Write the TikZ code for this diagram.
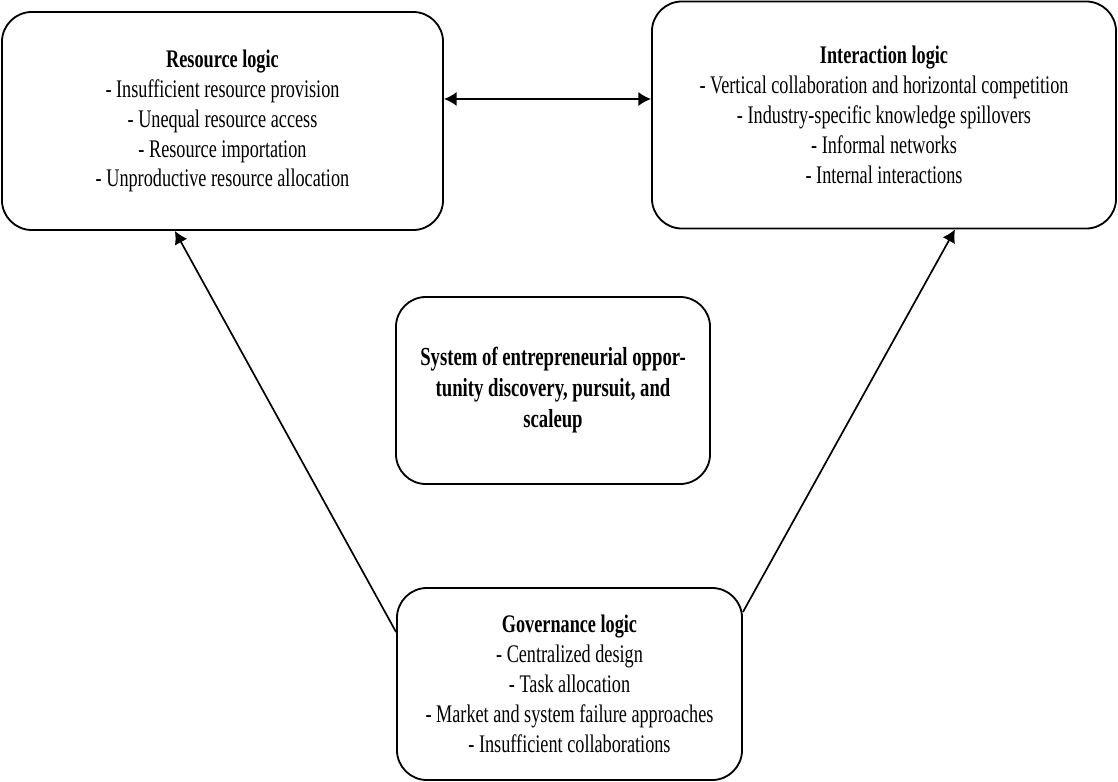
\documentclass[tikz,border=0pt]{standalone}
\usepackage{fontspec}
\setmainfont{Liberation Serif}[FakeStretch=0.72]
\usetikzlibrary{arrows.meta, positioning}

\begin{document}
\begin{tikzpicture}[x=0.025cm, y=-0.025cm,
  logic_box/.style={draw, line width=1.3pt, rounded corners=0.75cm, align=center, inner sep=4pt, font=\fontsize{18}{21.3}\selectfont},
  core_box/.style={logic_box, font=\bfseries\fontsize{18.5}{22}\selectfont},
  link/.style={line width=1.2pt, -{Latex[length=9pt, width=10pt]}},
  both_link/.style={line width=1.2pt, {Latex[length=9pt, width=10pt]}-{Latex[length=9pt, width=10pt]}},
]
  \useasboundingbox (0,0) rectangle (1118,782);
  % the four logic boxes
  \node[logic_box, minimum width=11.025cm, minimum height=5.45cm] (res) at (222.5,121)
    {\textbf{Resource logic}\\- Insufficient resource provision\\- Unequal resource access\\- Resource importation\\- Unproductive resource allocation};
  \node[logic_box, minimum width=11.6cm, minimum height=5.675cm] (inter) at (884,115)
    {\textbf{Interaction logic}\\- Vertical collaboration and horizontal competition\\- Industry-specific knowledge spillovers\\- Informal networks\\- Internal interactions};
  \node[core_box, minimum width=7.85cm, minimum height=4.675cm] (sys) at (553,390.5)
    {System of entrepreneurial oppor-\\tunity discovery, pursuit, and\\scaleup};
  \node[logic_box, minimum width=8.625cm, minimum height=4.8cm] (gov) at (569.5,684)
    {\textbf{Governance logic}\\- Centralized design\\- Task allocation\\- Market and system failure approaches\\- Insufficient collaborations};
  % connectors
  \coordinate (link_y) at (0,99);
  \draw[both_link] (res.east |- link_y) -- (inter.west |- link_y);
  \draw[link] ([yshift=1.3cm]gov.west) -- ([xshift=-1.19cm]res.south);
  \draw[link] ([yshift=1.8cm]gov.east) -- ([xshift=1.775cm]inter.south);
\end{tikzpicture}
\end{document}
